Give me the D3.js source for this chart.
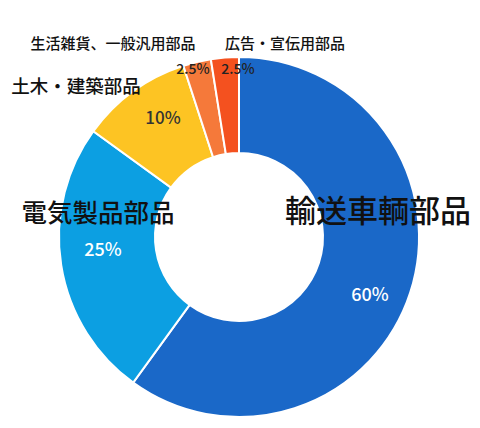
<!DOCTYPE html>
<html><head><meta charset="utf-8">
<script src="https://cdn.jsdelivr.net/npm/d3@7"></script>
<style>body{margin:0;background:#fff}text{font-family:"Noto Sans CJK JP","Noto Sans",sans-serif;font-weight:500}</style>
</head><body><svg id="c" width="480" height="428"></svg>
<script>
const categories=["輸送車輌部品","電気製品部品","土木・建築部品","生活雑貨、一般汎用部品","広告・宣伝用部品"];
const values=[60,25,10,2.5,2.5];
const pctLabels=["60%","25%","10%","2.5%","2.5%"];
const colors=["#1a68c8","#0c9fe2","#fdc423","#f5793a","#f4511f"];
const svg=d3.select("#c");
const cx=239,cy=237,R=180,r=84;
const g=svg.append("g").attr("transform",`translate(${cx},${cy})`);
const pie=d3.pie().sort(null).value(d=>d)(values);
const arc=d3.arc().innerRadius(r).outerRadius(R);
g.selectAll("path").data(pie).join("path").attr("d",arc)
 .attr("fill",(d,i)=>colors[i]).attr("stroke","#fff").attr("stroke-width",2);
const catPos=[[378,208,31],[98,210,25.5],[76,85,18.5],[113,42,15],[285,42,15]];
const pctPos=[[370,293,18,"#fff"],[103,248,18,"#fff"],[163,116,17,"#333"],[193,68,14,"#222"],[238,68,14,"#222"]];
svg.selectAll("text.cat").data(categories).join("text").attr("class","cat")
 .attr("x",(d,i)=>catPos[i][0]).attr("y",(d,i)=>catPos[i][1])
 .attr("font-size",(d,i)=>catPos[i][2]).attr("text-anchor","middle").attr("dominant-baseline","central")
 .attr("fill","#111").text(d=>d);
svg.selectAll("text.pct").data(pctLabels).join("text").attr("class","pct")
 .attr("x",(d,i)=>pctPos[i][0]).attr("y",(d,i)=>pctPos[i][1])
 .attr("font-size",(d,i)=>pctPos[i][2]).attr("fill",(d,i)=>pctPos[i][3])
 .attr("text-anchor","middle").attr("dominant-baseline","central").text(d=>d);
</script></body></html>
